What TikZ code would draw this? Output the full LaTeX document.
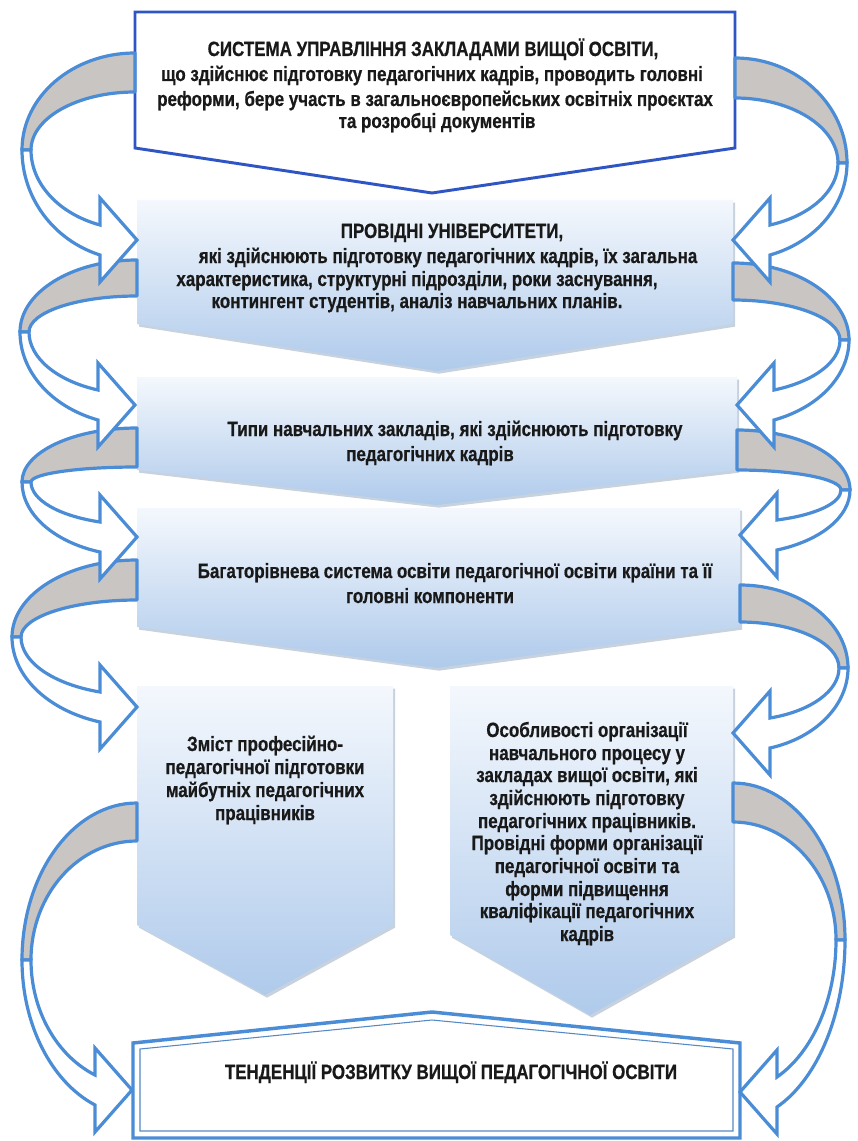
\documentclass[tikz,border=0pt]{standalone}
\usepackage{fontspec}
\newfontfamily\cf{Liberation Sans}[FakeStretch=0.82,FakeBold=0.6]
\definecolor{arrblue}{HTML}{4A8CD6}
\definecolor{bandgray}{HTML}{C9C5C3}
\definecolor{boxoneblue}{HTML}{2F55C4}
\definecolor{boxtop}{HTML}{F4F8FD}
\definecolor{boxbot}{HTML}{AFCAEB}
\definecolor{shadowc}{HTML}{9AAEC4}
\tikzset{
 bandstyle/.style={fill=bandgray, draw=arrblue, line width=2.4pt, line join=round},
 frontstyle/.style={fill=white, draw=arrblue, line width=2.4pt, line join=miter, miter limit=4},
 txt/.style={font=\cf\bfseries\fontsize{15.5}{18}\selectfont, anchor=base, inner sep=0pt, text=black!90},
}
% back (gray) band of a curved arrow: x0 ya yb xe yc
\newcommand\backband[5]{%
 \pgfmathsetmacro\rxo{#1-(#4)}%
 \pgfmathsetmacro\rxi{#1-(#4)-9}%
 \pgfmathsetmacro\ryo{#5-#2}%
 \pgfmathsetmacro\ryi{#5-#3}%
 \filldraw[bandstyle] (#1,#2) arc[start angle=270,end angle=180,x radius=\rxo,y radius=\ryo]
   -- ++(9,0) arc[start angle=180,end angle=270,x radius=\rxi,y radius=\ryi] -- cycle;
}
% front part with arrow head: x0 xe yc yt xt
\newcommand\frontarrow[5]{%
 \pgfmathsetmacro\rxo{#1-(#2)}%
 \pgfmathsetmacro\rxi{#1-(#2)-9}%
 \pgfmathsetmacro\xh{#5-37}%
 \pgfmathsetmacro\dxo{#1-(\xh)}%
 \pgfmathsetmacro\tho{180-acos(\dxo/\rxo)}%
 \pgfmathsetmacro\thi{180-acos(\dxo/\rxi)}%
 \pgfmathsetmacro\ryo{(#4+15-#3)/sin(\tho)}%
 \pgfmathsetmacro\ryi{(#4-15-#3)/sin(\thi)}%
 \filldraw[frontstyle] (#2,#3) arc[start angle=180,end angle=\tho,x radius=\rxo,y radius=\ryo]
   -- (\xh,#4+42) -- (#5,#4) -- (\xh,#4-42) -- (\xh,#4-15)
   arc[start angle=\thi,end angle=180,x radius=\rxi,y radius=\ryi] -- cycle;
}
% shaded chevron box: x1 x2 ytop yside xp yp
\newcommand\chevshape[6]{%
 \fill[shadowc,opacity=.55,xshift=1.5pt,yshift=-2pt] (#1,#3) -- (#2,#3) -- (#2,#4) -- (#5,#6) -- (#1,#4) -- cycle;
 \shade[top color=boxtop,bottom color=boxbot] (#1,#3) -- (#2,#3) -- (#2,#4) -- (#5,#6) -- (#1,#4) -- cycle;
}
\begin{document}
\begin{tikzpicture}[x=0.75pt,y=-0.75pt]
\fill[white] (0,0) rectangle (857,1141);
\useasboundingbox (0,0) rectangle (857,1141);

% ---- boxes
\filldraw[fill=white,draw=boxoneblue,line width=2.2pt,line join=miter]
  (135,12) -- (735,12) -- (735,148) -- (432,193) -- (135,148) -- cycle;
\chevshape{137}{733}{200}{324}{437}{371}
\chevshape{137}{737}{377}{470}{437}{505}
\chevshape{137}{740}{508}{627}{437}{668}
\chevshape{137}{393}{686}{925}{265}{995}
\chevshape{450}{733}{686}{935}{590}{1015}
% bottom box (double border)
\filldraw[fill=white,draw=arrblue,line width=2.6pt,line join=miter]
  (133,1043) -- (432,1012) -- (740,1043) -- (740,1138) -- (133,1138) -- cycle;
\draw[arrblue!80!gray,line width=0.8pt]
  (140,1049) -- (432,1020) -- (733,1049) -- (733,1131) -- (140,1131) -- cycle;

% ---- curved arrows: back bands
\backband{135}{53}{92}{22}{150}
\backband{137}{260}{296}{20}{332}
\backband{137}{428}{467}{22}{482}
\backband{137}{560}{600}{12}{637}
\backband{137}{803}{841}{22}{960}
\begin{scope}[xscale=-1]
\backband{-735}{58}{98}{-847}{163}
\backband{-733}{263}{300}{-849}{340}
\backband{-737}{430}{470}{-850}{490}
\backband{-740}{585}{622}{-848}{668}
\backband{-733}{783}{822}{-845}{940}
\end{scope}
% ---- curved arrows: front parts with heads
\frontarrow{135}{22}{150}{240}{137}
\frontarrow{137}{20}{332}{405}{135}
\frontarrow{137}{22}{482}{537}{137}
\frontarrow{137}{12}{637}{707}{137}
\frontarrow{137}{22}{960}{1090}{132}
\begin{scope}[xscale=-1]
\frontarrow{-735}{-847}{163}{240}{-733}
\frontarrow{-733}{-849}{340}{405}{-737}
\frontarrow{-737}{-850}{490}{535}{-740}
\frontarrow{-740}{-848}{668}{733}{-733}
\frontarrow{-733}{-845}{940}{1092}{-740}
\end{scope}

% ---- texts
\node[txt] (t1a) at (433,56) {СИСТЕМА УПРАВЛІННЯ ЗАКЛАДАМИ ВИЩОЇ ОСВІТИ,};
\node[txt] (t1b) at (432,81) {що здійснює підготовку педагогічних кадрів, проводить головні};
\node[txt] (t1c) at (435,106) {реформи, бере участь в загальноєвропейських освітніх проєктах};
\node[txt] (t1d) at (437,128) {та розробці документів};

\node[txt] (t2a) at (452,238) {ПРОВІДНІ УНІВЕРСИТЕТИ,};
\node[txt] (t2b) at (448,263) {які здійснюють підготовку педагогічних кадрів, їх загальна};
\node[txt] (t2c) at (417,286) {характеристика, структурні підрозділи, роки заснування,};
\node[txt] (t2d) at (417,308) {контингент студентів, аналіз навчальних планів.};

\node[txt] (t3a) at (455,436) {Типи навчальних закладів, які здійснюють підготовку};
\node[txt] (t3b) at (430,461) {педагогічних кадрів};

\node[txt] (t4a) at (455,578) {Багаторівнева система освіти педагогічної освіти країни та її};
\node[txt] (t4b) at (430,603) {головні компоненти};

\node[txt] (t5a) at (265,751) {Зміст професійно-};
\node[txt] (t5b) at (265,774) {педагогічної підготовки};
\node[txt] (t5c) at (265,797) {майбутніх педагогічних};
\node[txt] (t5d) at (265,820) {працівників};

\node[txt] (t6a) at (587,737) {Особливості організації};
\node[txt] (t6b) at (587,760) {навчального процесу у};
\node[txt] (t6c) at (587,782) {закладах вищої освіти, які};
\node[txt] (t6d) at (587,805) {здійснюють підготовку};
\node[txt] (t6e) at (587,828) {педагогічних працівників.};
\node[txt] (t6f) at (587,850) {Провідні форми організації};
\node[txt] (t6g) at (587,873) {педагогічної освіти та};
\node[txt] (t6h) at (587,896) {форми підвищення};
\node[txt] (t6i) at (587,918) {кваліфікації педагогічних};
\node[txt] (t6j) at (587,941) {кадрів};

\node[txt] (t7) at (451,1079) {ТЕНДЕНЦІЇ РОЗВИТКУ ВИЩОЇ ПЕДАГОГІЧНОЇ ОСВІТИ};
\end{tikzpicture}
\end{document}
